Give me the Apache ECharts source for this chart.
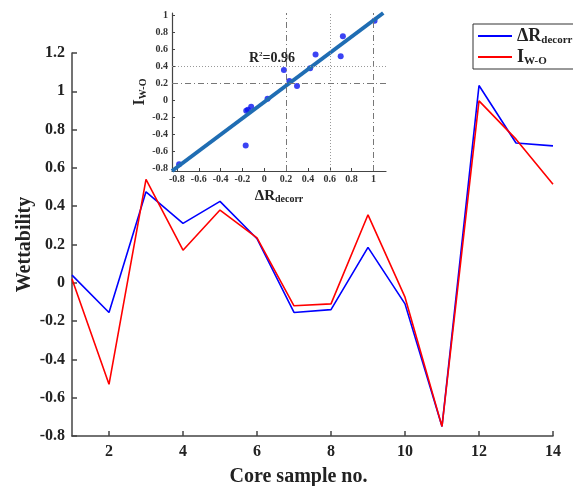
<!DOCTYPE html>
<html>
<head>
<meta charset="utf-8">
<script src="https://cdn.jsdelivr.net/npm/echarts@6/dist/echarts.min.js"></script>
<style>
	html, body { margin: 0; padding: 0; background: #fff; }
	#main { width: 573px; height: 486px; }
</style>
</head>
<body>
<div id="main"></div>
<script>
	// core samples 1..14
	const samples = [1, 2, 3, 4, 5, 6, 7, 8, 9, 10, 11, 12, 13, 14]
	const deltaR = [0.04, -0.155, 0.475, 0.31, 0.425, 0.23, -0.155, -0.14, 0.185, -0.11, -0.75, 1.03, 0.73, 0.715]
	const iwo = [0.02, -0.53, 0.54, 0.17, 0.38, 0.235, -0.12, -0.11, 0.355, -0.075, -0.75, 0.95, 0.75, 0.515]
	const xTicks = [2, 4, 6, 8, 10, 12, 14]

	// inset scatter (ΔRdecorr vs IW-O)
	const scX = [-0.78, -0.17, -0.165, -0.15, -0.12, 0.03, 0.18, 0.23, 0.30, 0.42, 0.47, 0.70, 0.72, 1.01]
	const scY = [-0.75, -0.53, -0.12, -0.11, -0.075, 0.02, 0.36, 0.23, 0.17, 0.38, 0.54, 0.52, 0.755, 0.94]
	const fitX = [-0.845, 1.09]
	const fitY = [-0.83, 1.03]
	const insetTicks = [-0.8, -0.6, -0.4, -0.2, 0, 0.2, 0.4, 0.6, 0.8, 1]
	const refX = [0.2, 0.6, 1]
	const refY = [0.2, 0.4]

	const font = 'Liberation Serif'
	const dashDot = [6, 3, 1, 3]
	const dotted = [1, 2]

	const myChart = echarts.init(document.getElementById('main'))

	const pairs = (xs, ys) => xs.map((x, i) => [x, ys[i]])

	const option = {
		animation: false,
		backgroundColor: '#fff',
		textStyle: { fontFamily: font },
		legend: {
			left: 473,
			top: 24,
			orient: 'vertical',
			itemWidth: 34,
			itemHeight: 2,
			itemGap: 2,
			icon: 'rect',
			borderColor: '#333',
			borderWidth: 1,
			padding: [3, 6, 2, 5],
			data: ['dr', 'iw'],
			formatter: function (name) {
				return name === 'dr' ? '{a|ΔR}{s|decorr}' : '{a|I}{s|W-O}'
			},
			textStyle: {
				rich: {
					a: { fontFamily: font, fontWeight: 'bold', fontSize: 18, color: '#222', lineHeight: 21 },
					s: { fontFamily: font, fontWeight: 'bold', fontSize: 11, color: '#222', padding: [9, 0, 0, 0] }
				}
			}
		},
		grid: [{
			left: 72,
			right: 20,
			top: 53,
			bottom: 50,
			outerBoundsMode: 'none'
		}, {
			left: 172,
			top: 13,
			right: 187,
			bottom: 315,
			outerBoundsMode: 'none'
		}],
		xAxis: [{
			type: 'value',
			min: 1,
			max: 14,
			name: 'Core sample no.',
			nameLocation: 'middle',
			nameGap: 31,
			nameMoveOverlap: false,
			nameTextStyle: { fontFamily: font, fontWeight: 'bold', fontSize: 20, color: '#222', padding: [0, 28, 0, 0] },
			splitLine: { show: false },
			axisLine: { onZero: false, lineStyle: { color: '#444', width: 1.5 } },
			axisTick: { inside: true, length: 5, customValues: xTicks, lineStyle: { color: '#444', width: 1.5 } },
			axisLabel: { customValues: xTicks, fontFamily: font, fontWeight: 'bold', fontSize: 16, color: '#222', margin: 8 }
		}, {
			type: 'value',
			gridIndex: 1,
			min: -0.845,
			max: 1.115,
			name: '{a|ΔR}{s|decorr}',
			nameLocation: 'middle',
			nameGap: 16,
			nameTextStyle: {
				rich: {
					a: { fontFamily: font, fontWeight: 'bold', fontSize: 15, color: '#222', lineHeight: 18 },
					s: { fontFamily: font, fontWeight: 'bold', fontSize: 10, color: '#222', padding: [7, 0, 0, 0] }
				}
			},
			splitLine: { show: false },
			axisLine: { onZero: false, lineStyle: { color: '#444', width: 1.2 } },
			axisTick: { inside: true, length: 3, customValues: insetTicks, lineStyle: { color: '#444' } },
			axisLabel: { customValues: insetTicks, fontFamily: font, fontWeight: 'bold', fontSize: 10, color: '#333', margin: 3 }
		}],
		yAxis: [{
			type: 'value',
			min: -0.8,
			max: 1.2,
			interval: 0.2,
			name: 'Wettability',
			nameLocation: 'middle',
			nameGap: 37,
			nameMoveOverlap: false,
			nameTextStyle: { fontFamily: font, fontWeight: 'bold', fontSize: 20, color: '#222' },
			splitLine: { show: false },
			axisLine: { show: true, onZero: false, lineStyle: { color: '#444', width: 1.5 } },
			axisTick: { show: true, inside: true, length: 5, lineStyle: { color: '#444', width: 1.5 } },
			axisLabel: { fontFamily: font, fontWeight: 'bold', fontSize: 16, color: '#222', margin: 7 }
		}, {
			type: 'value',
			gridIndex: 1,
			min: -0.83,
			max: 1.03,
			name: '{a|I}{s|W-O}',
			nameLocation: 'middle',
			nameGap: 17,
			nameTextStyle: {
				rich: {
					a: { fontFamily: font, fontWeight: 'bold', fontSize: 16, color: '#222', lineHeight: 18 },
					s: { fontFamily: font, fontWeight: 'bold', fontSize: 10, color: '#222', padding: [7, 0, 0, 0] }
				}
			},
			splitLine: { show: false },
			axisLine: { show: true, onZero: false, lineStyle: { color: '#444', width: 1.2 } },
			axisTick: { show: true, inside: true, length: 3, customValues: insetTicks, lineStyle: { color: '#444' } },
			axisLabel: { customValues: insetTicks, fontFamily: font, fontWeight: 'bold', fontSize: 10, color: '#333', margin: 4 }
		}],
		graphic: [{
			type: 'text',
			left: 249,
			top: 51,
			style: {
				text: '{a|R}{s|2}{a|=0.96}',
				rich: {
					a: { fontFamily: font, fontWeight: 'bold', fontSize: 14, fill: '#222', lineHeight: 16 },
					s: { fontFamily: font, fontWeight: 'bold', fontSize: 7, fill: '#222', padding: [0, 0, 7, 0] }
				}
			}
		}],
		series: [{
			name: 'dr',
			type: 'line',
			symbol: 'none',
			lineStyle: { color: '#0000ff', width: 1.6 },
			itemStyle: { color: '#0000ff' },
			data: pairs(samples, deltaR)
		}, {
			name: 'iw',
			type: 'line',
			symbol: 'none',
			lineStyle: { color: '#ff0000', width: 1.6 },
			itemStyle: { color: '#ff0000' },
			data: pairs(samples, iwo)
		}, {
			name: 'scatter',
			type: 'scatter',
			xAxisIndex: 1,
			yAxisIndex: 1,
			symbolSize: 6,
			itemStyle: { color: '#0a14f0' },
			data: pairs(scX, scY),
			markLine: {
				silent: true,
				symbol: 'none',
				label: { show: false },
				lineStyle: { color: '#888', width: 1 },
				data: [
					{ xAxis: refX[0], lineStyle: { type: dashDot, color: '#777' } },
					{ xAxis: refX[1], lineStyle: { type: dotted, color: '#999' } },
					{ xAxis: refX[2], lineStyle: { type: dashDot, color: '#777' } },
					{ yAxis: refY[0], lineStyle: { type: dashDot, color: '#777' } },
					{ yAxis: refY[1], lineStyle: { type: dotted, color: '#999' } }
				]
			}
		}, {
			name: 'fit',
			type: 'line',
			xAxisIndex: 1,
			yAxisIndex: 1,
			symbol: 'none',
			z: 3,
			lineStyle: { color: '#1f6db3', width: 4 },
			data: pairs(fitX, fitY)
		}]
	}

	myChart.setOption(option)
</script>
</body>
</html>
